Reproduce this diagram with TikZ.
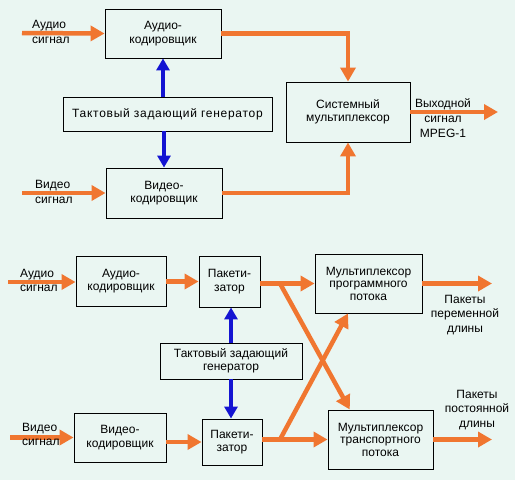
\documentclass[tikz,border=0pt]{standalone}
\usepackage{fontspec}
\setmainfont{Liberation Sans}
\usetikzlibrary{arrows.meta,calc}
\definecolor{bgc}{RGB}{234,246,242}
\definecolor{org}{RGB}{240,118,48}
\definecolor{blu}{RGB}{20,20,210}
\begin{document}
\begin{tikzpicture}[x=1pt,y=-1pt,
  box/.style={draw=black,line width=0.9pt,align=center,inner sep=0pt,font=\fontsize{12}{13.5}\selectfont},
  oarr/.style={draw=org,line width=4.5pt,-{Triangle[length=14pt,width=15pt]}},
  barr/.style={draw=blu,line width=4pt,-{Triangle[length=12pt,width=13pt]}},
  lbl/.style={align=center,inner sep=0pt,font=\fontsize{12}{14.5}\selectfont},
  inl/.style={align=left,anchor=west,inner sep=0pt,font=\fontsize{12}{15}\selectfont}]
\fill[bgc] (0,0) rectangle (515,480);
\useasboundingbox (0,0) rectangle (515,480);
% ---------- top diagram ----------
\node[box,minimum width=116pt,minimum height=49pt] (ac1) at (163,33.5) {Аудио-\\кодировщик};
\node[box,minimum width=209pt,minimum height=34pt] (gen1) at (167.5,114) {\addfontfeature{LetterSpace=6}Тактовый задающий генератор};
\node[box,minimum width=116pt,minimum height=50pt] (vc1) at (164,193) {Видео-\\кодировщик};
\node[box,minimum width=124pt,minimum height=60pt] (mux) at (348,112) {Системный\\мультиплексор};
\coordinate (ain1) at (22,33);
\coordinate (vin1) at (22,193);
\coordinate (out1) at (498,112);
\draw[oarr] (ain1) -- (ac1.west);
\draw[oarr] (vin1) -- (vc1.west);
\node[inl] (at1) at (32,32) {Аудио\\сигнал};
\node[inl] (vt1) at (35,192) {Видео\\сигнал};
\draw[barr] (gen1.north -| ac1.south) -- (ac1.south);
\draw[barr] (gen1.south -| vc1.north) -- (vc1.north);
\draw[oarr] (ac1.east) -- (mux.north |- ac1.east) -- (mux.north);
\draw[oarr] (vc1.east) -- (mux.south |- vc1.east) -- (mux.south);
\draw[oarr] (mux.east) -- (out1);
\node[lbl,font=\fontsize{12}{15}\selectfont] (ot1) at (443,118) {Выходной\\сигнал\\MPEG-1};
% ---------- bottom diagram ----------
\node[box,minimum width=90pt,minimum height=50pt] (ac2) at (121,281) {Аудио-\\кодировщик};
\node[box,minimum width=61pt,minimum height=51pt] (pk1) at (229.5,281.5) {Пакети-\\затор};
\node[box,minimum width=142pt,minimum height=36pt] (gen2) at (231,361) {Тактовый задающий\\генератор};
\node[box,minimum width=92pt,minimum height=49pt] (vc2) at (120,437.5) {Видео-\\кодировщик};
\node[box,minimum width=60pt,minimum height=46pt] (pk2) at (232,442) {Пакети-\\затор};
\node[box,minimum width=107pt,minimum height=59pt,font=\fontsize{12}{12.5}\selectfont] (mux1) at (368.5,283.5) {Мультиплексор\\программного\\потока};
\node[box,minimum width=105pt,minimum height=59pt,font=\fontsize{12}{12.5}\selectfont] (mux2) at (380.5,439.5) {Мультиплексор\\транспортного\\потока};
\coordinate (ain2) at (8,282);
\coordinate (vin2) at (10,437.5);
\coordinate (b1) at (280,282);
\coordinate (b2) at (280,438);
\coordinate (out2) at (492,283.5);
\coordinate (out3) at (492,439.5);
\draw[oarr] (ain2) -- (ac2.west |- ain2);
\draw[oarr] (vin2) -- (vc2.west);
\node[inl,font=\fontsize{12}{14}\selectfont] (at2) at (20,280) {Аудио\\сигнал};
\node[inl,font=\fontsize{12}{14}\selectfont] (vt2) at (22,434.5) {Видео\\сигнал};
\draw[oarr] (ac2.east |- pk1.west) -- (pk1.west);
\draw[oarr] (vc2.east |- pk2.west) -- (pk2.west);
\draw[barr] (gen2.north) -- (gen2.north |- pk1.south);
\draw[barr] (gen2.south) -- (gen2.south |- pk2.north);
\draw[oarr] (pk1.east |- mux1.west) -- (mux1.west);
\draw[oarr] (pk2.east |- mux2.west) -- (mux2.west);
\draw[oarr] (b1 |- mux1.west) -- ($(mux2.north west)!0.21!(mux2.north east)$);
\draw[oarr] (b2 |- mux2.west) -- ($(mux1.south west)!0.31!(mux1.south east)$);
\draw[oarr] (mux1.east) -- (out2);
\draw[oarr] (mux2.east) -- (out3);
\node[lbl] (ot2) at (465,315) {Пакеты\\переменной\\длины};
\node[lbl] (ot3) at (477,410) {Пакеты\\постоянной\\длины};
\end{tikzpicture}
\end{document}
